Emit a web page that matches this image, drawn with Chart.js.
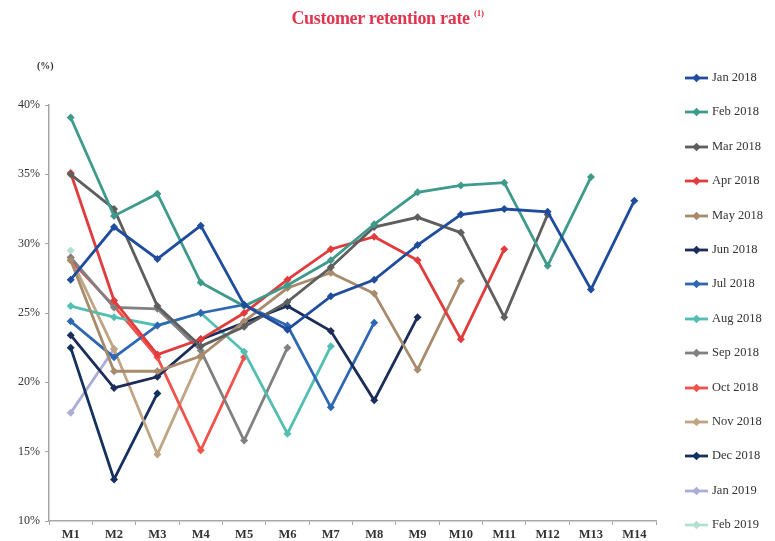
<!DOCTYPE html>
<html>
<head>
<meta charset="utf-8">
<script src="https://cdn.jsdelivr.net/npm/chart.js@4/dist/chart.umd.min.js"></script>
<style>
  html, body { margin: 0; padding: 0; background: #fff; }
  #wrap { position: relative; width: 775px; height: 541px; overflow: hidden; }
  #chart { position: absolute; left: 0; top: 0; }
  #title {
    position: absolute; left: 0; width: 775px; top: 8px; text-align: center;
    font: bold 18px "Liberation Serif", serif; color: #e0344f; letter-spacing: -0.3px;
  }
  #title sup { font-size: 9px; vertical-align: 8px; }
  #unit {
    position: absolute; left: 37px; top: 60px;
    font: bold 10px "Liberation Serif", serif; color: #333;
  }
  #legend { position: absolute; left: 684px; top: 0; }
  .item { position: absolute; left: 0; height: 16px; white-space: nowrap; }
  .item canvas { position: absolute; left: 0; top: 0; }
  .item span {
    position: absolute; left: 28px; top: 0; line-height: 16px;
    font: 12.5px "Liberation Serif", serif; color: #333;
  }
</style>
</head>
<body>
<div id="wrap">
  <canvas id="chart" width="775" height="541"></canvas>
  <div id="title">Customer retention rate <sup>(1)</sup></div>
  <div id="unit">(%)</div>
  <div id="legend"></div>
</div>
<script>
const months = ['M1', 'M2', 'M3', 'M4', 'M5', 'M6', 'M7', 'M8', 'M9', 'M10', 'M11', 'M12', 'M13', 'M14'];
const yTicks = [10, 15, 20, 25, 30, 35, 40];

const cohorts = ['Jan 2018', 'Feb 2018', 'Mar 2018', 'Apr 2018', 'May 2018', 'Jun 2018', 'Jul 2018',
  'Aug 2018', 'Sep 2018', 'Oct 2018', 'Nov 2018', 'Dec 2018', 'Jan 2019', 'Feb 2019'];

const colors = ['#1f4c9c', '#3f9a8c', '#5e5e5e', '#e23b3b', '#a88b6c', '#1b2d58', '#2f68b2',
  '#52bfb2', '#808080', '#f2524c', '#c0a584', '#14305e', '#aaaed6', '#b2e0d2'];

// retention (%) by month since signup, one array per cohort
const jan2018 = [27.4, 31.2, 28.9, 31.3, 25.6, 23.8, 26.2, 27.4, 29.9, 32.1, 32.5, 32.3, 26.7, 33.1];
const feb2018 = [39.1, 32.0, 33.6, 27.2, 25.5, 27.0, 28.8, 31.4, 33.7, 34.2, 34.4, 28.4, 34.8];
const mar2018 = [35.0, 32.5, 25.5, 22.6, 24.0, 25.8, 28.3, 31.2, 31.9, 30.8, 24.7, 32.1];
const apr2018 = [35.1, 25.9, 22.0, 23.1, 25.0, 27.4, 29.6, 30.5, 28.8, 23.1, 29.6];
const may2018 = [28.8, 20.8, 20.8, 21.9, 24.4, 26.8, 27.9, 26.4, 20.9, 27.3];
const jun2018 = [23.4, 19.6, 20.4, 23.1, 24.3, 25.5, 23.7, 18.7, 24.7];
const jul2018 = [24.4, 21.8, 24.1, 25.0, 25.6, 24.1, 18.2, 24.3];
const aug2018 = [25.5, 24.7, 24.1, 25.0, 22.2, 16.3, 22.6];
const sep2018 = [29.0, 25.4, 25.3, 22.3, 15.8, 22.5];
const oct2018 = [28.8, 25.5, 21.8, 15.1, 21.8];
const nov2018 = [29.0, 22.4, 14.8, 21.8];
const dec2018 = [22.5, 13.0, 19.2];
const jan2019 = [17.8, 22.4];
const feb2019 = [29.5];

const series = [jan2018, feb2018, mar2018, apr2018, may2018, jun2018, jul2018,
  aug2018, sep2018, oct2018, nov2018, dec2018, jan2019, feb2019];

const serif = '"Liberation Serif", serif';

new Chart(document.getElementById('chart'), {
  type: 'line',
  data: {
    labels: months,
    datasets: series.map((values, i) => ({
      label: cohorts[i],
      data: values,
      borderColor: colors[i],
      backgroundColor: colors[i],
      borderWidth: 2.8,
      pointStyle: 'rectRot',
      pointRadius: 4,
      pointBorderWidth: 0,
      tension: 0
    }))
  },
  options: {
    responsive: false,
    animation: false,
    layout: { padding: { left: 0, top: 105, right: 119, bottom: 0 } },
    plugins: {
      legend: { display: false },
      title: { display: false },
      tooltip: { enabled: false }
    },
    scales: {
      x: {
        offset: true,
        grid: { display: true, drawOnChartArea: false, offset: true, tickLength: 4, color: '#a8a8a8' },
        border: { color: '#a8a8a8', width: 1.5 },
        ticks: { color: '#333', padding: 2, font: { family: serif, size: 12.5, weight: 'bold' } },
        afterFit: (s) => { s.height = 20; }
      },
      y: {
        min: 10,
        max: 40,
        afterBuildTicks: (s) => { s.ticks = yTicks.map((v) => ({ value: v })); },
        grid: { display: true, drawOnChartArea: false, tickLength: 4, color: '#a8a8a8' },
        border: { color: '#a8a8a8', width: 1.5 },
        ticks: {
          color: '#333',
          padding: 5,
          font: { family: serif, size: 12 },
          callback: (v) => v + '%'
        },
        afterFit: (s) => { s.width = 49; }
      }
    }
  }
});

// legend: short line with a diamond marker, then the cohort name
const legend = document.getElementById('legend');
cohorts.forEach((name, i) => {
  const item = document.createElement('div');
  item.className = 'item';
  item.style.top = (70 + i * 34.4) + 'px';
  const c = document.createElement('canvas');
  c.width = 26; c.height = 16;
  const ctx = c.getContext('2d');
  ctx.strokeStyle = colors[i];
  ctx.fillStyle = colors[i];
  ctx.lineWidth = 2.8;
  ctx.beginPath(); ctx.moveTo(1, 8); ctx.lineTo(24, 8); ctx.stroke();
  ctx.beginPath(); ctx.moveTo(12.5, 3.8); ctx.lineTo(16.7, 8); ctx.lineTo(12.5, 12.2); ctx.lineTo(8.3, 8); ctx.closePath(); ctx.fill();
  const label = document.createElement('span');
  label.textContent = name;
  item.appendChild(c);
  item.appendChild(label);
  legend.appendChild(item);
});
</script>
</body>
</html>
